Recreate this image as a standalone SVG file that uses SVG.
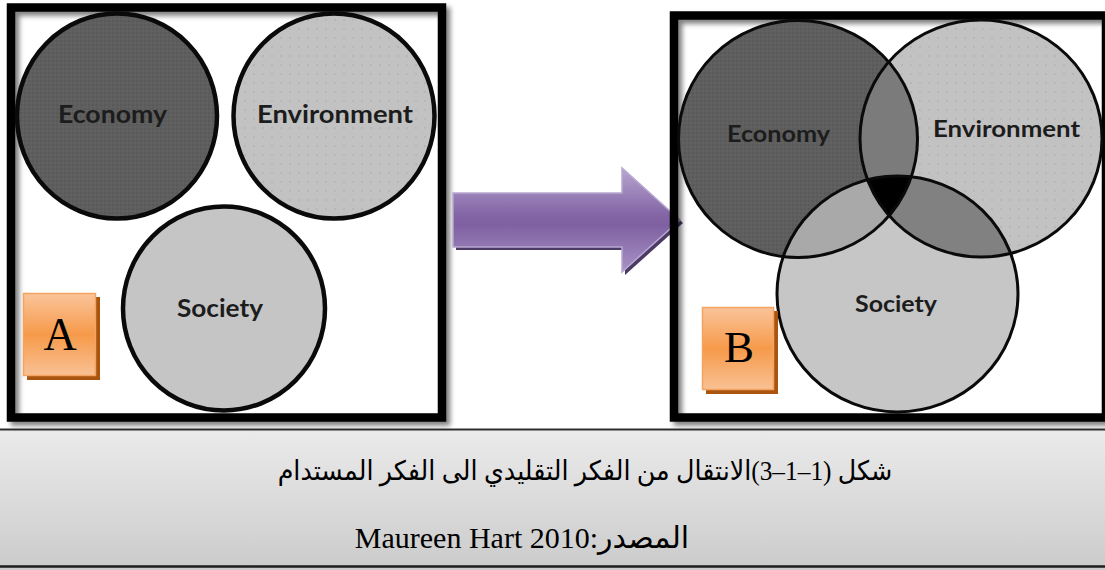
<svg xmlns="http://www.w3.org/2000/svg" width="1105" height="570" viewBox="0 0 1105 570">
  <style>
    .frame { fill: none; stroke: #000; stroke-width: 8.5; }
    .ring-a { fill: none; stroke: #0a0a0a; stroke-width: 4.5; }
    .ring-b { fill: none; stroke: #0a0a0a; stroke-width: 3; }
    .lbl { font-family: Lato, "Open Sans", sans-serif; font-weight: 700; fill: #1c1c1c; text-anchor: middle; }
    .letter { font-family: "Liberation Serif", serif; fill: #000; text-anchor: middle; }
    .cap { font-family: "Liberation Serif", "DejaVu Sans", serif; fill: #000; text-anchor: middle; }
  </style>
  <defs>
    <filter id="soft" x="-5%" y="-5%" width="115%" height="115%">
      <feGaussianBlur in="SourceAlpha" stdDeviation="2.5"/>
      <feOffset dx="4" dy="4" result="b"/>
      <feComponentTransfer><feFuncA type="linear" slope="0.5"/></feComponentTransfer>
      <feMerge><feMergeNode/><feMergeNode in="SourceGraphic"/></feMerge>
    </filter>
    <linearGradient id="orange" x1="0" y1="0" x2="0" y2="1">
      <stop offset="0" stop-color="#fac49a"/>
      <stop offset="0.5" stop-color="#f69a4a"/>
      <stop offset="1" stop-color="#f9c194"/>
    </linearGradient>
    <linearGradient id="purple" x1="0" y1="168" x2="0" y2="272" gradientUnits="userSpaceOnUse">
      <stop offset="0" stop-color="#b7a6d0"/>
      <stop offset="0.45" stop-color="#8365a6"/>
      <stop offset="0.55" stop-color="#7f61a2"/>
      <stop offset="1" stop-color="#a993c6"/>
    </linearGradient>
    <linearGradient id="band" x1="0" y1="0" x2="0" y2="1">
      <stop offset="0" stop-color="#ebebeb"/>
      <stop offset="1" stop-color="#cbcbcb"/>
    </linearGradient>
    <pattern id="dots" width="9" height="9" patternUnits="userSpaceOnUse">
      <rect width="9" height="9" fill="#c2c2c2"/>
      <circle cx="2" cy="2" r="0.8" fill="#a9a9a9"/>
    </pattern>
    <pattern id="grain" width="4" height="4" patternUnits="userSpaceOnUse">
      <rect width="4" height="4" fill="#5e5e5e"/>
      <circle cx="1" cy="1" r="0.6" fill="#4a4a4a"/>
      <circle cx="3" cy="3" r="0.6" fill="#6e6e6e"/>
    </pattern>
    <clipPath id="cEco"><ellipse cx="798" cy="139" rx="119.5" ry="118.5"/></clipPath>
    <clipPath id="cEnv"><ellipse cx="981" cy="138.5" rx="121" ry="118.5"/></clipPath>
  </defs>

  <!-- caption band -->
  <g id="caption">
    <rect x="0" y="429" width="1105" height="141" fill="url(#band)"/>
    <line x1="0" y1="429.5" x2="1105" y2="429.5" stroke="#2e2e2e" stroke-width="2"/>
    <line x1="0" y1="566.5" x2="1105" y2="566.5" stroke="#1e1e1e" stroke-width="2.5"/>
    <g transform="translate(585 480) scale(0.94 1)">
      <text class="cap" x="0" y="0" font-size="27" direction="rtl">شكل (1–1–3)الانتقال من الفكر التقليدي الى الفكر المستدام</text>
    </g>
    <text class="cap" x="522" y="548" font-size="30" direction="rtl">المصدر:Maureen Hart 2010</text>
  </g>

  <!-- panel A: separate spheres -->
  <g id="panel-a">
    <rect class="frame" x="11" y="7.5" width="431" height="410" filter="url(#soft)"/>
    <g id="a-economy">
      <ellipse cx="117" cy="116" rx="100" ry="102.5" fill="url(#grain)"/>
      <ellipse class="ring-a" cx="117" cy="116" rx="100" ry="102.5"/>
      <text class="lbl" x="112.5" y="123" font-size="24" textLength="109" lengthAdjust="spacingAndGlyphs">Economy</text>
    </g>
    <g id="a-environment">
      <ellipse cx="334" cy="116" rx="100.5" ry="102.5" fill="url(#dots)"/>
      <ellipse class="ring-a" cx="334" cy="116" rx="100.5" ry="102.5"/>
      <text class="lbl" x="335" y="123" font-size="24" textLength="156" lengthAdjust="spacingAndGlyphs">Environment</text>
    </g>
    <g id="a-society">
      <ellipse cx="224" cy="308.5" rx="101" ry="102" fill="#c5c5c5"/>
      <ellipse class="ring-a" cx="224" cy="308.5" rx="101" ry="102"/>
      <text class="lbl" x="220" y="317" font-size="24" textLength="86" lengthAdjust="spacingAndGlyphs">Society</text>
    </g>
    <g id="tag-a">
      <rect x="27" y="297" width="73" height="83" fill="#a9540f"/>
      <rect x="23.5" y="293.5" width="72" height="82" fill="url(#orange)" stroke="#f4a462" stroke-width="1.5"/>
      <text class="letter" x="60" y="350" font-size="46">A</text>
    </g>
  </g>

  <!-- transition arrow -->
  <g id="connectors">
    <polygon points="456,196 625,196 625,171 683,223 625,275 625,250 456,250" fill="#4b3a63"/>
    <polygon points="453,193 622,193 622,168 680,220 622,272 622,247 453,247" fill="url(#purple)" stroke="#b9a8d0" stroke-width="1.5"/>
  </g>

  <!-- panel B: overlapping spheres -->
  <g id="panel-b">
    <rect class="frame" x="674" y="15.5" width="432" height="402" filter="url(#soft)"/>
    <g id="b-fills">
      <ellipse cx="798" cy="139" rx="119.5" ry="118.5" fill="url(#grain)"/>
      <ellipse cx="981" cy="138.5" rx="121" ry="118.5" fill="url(#dots)"/>
      <ellipse cx="897.5" cy="294" rx="120.5" ry="118" fill="#c6c6c6"/>
      <ellipse cx="981" cy="138.5" rx="121" ry="118.5" fill="#7b7b7b" clip-path="url(#cEco)"/>
      <ellipse cx="897.5" cy="294" rx="120.5" ry="118" fill="#a9a9a9" clip-path="url(#cEco)"/>
      <ellipse cx="897.5" cy="294" rx="120.5" ry="118" fill="#818181" clip-path="url(#cEnv)"/>
      <g clip-path="url(#cEco)">
        <ellipse cx="897.5" cy="294" rx="120.5" ry="118" fill="#000" clip-path="url(#cEnv)"/>
      </g>
    </g>
    <g id="b-economy">
      <ellipse class="ring-b" cx="798" cy="139" rx="119.5" ry="118.5"/>
      <text class="lbl" x="778.5" y="141.5" font-size="23" textLength="103" lengthAdjust="spacingAndGlyphs">Economy</text>
    </g>
    <g id="b-environment">
      <ellipse class="ring-b" cx="981" cy="138.5" rx="121" ry="118.5"/>
      <text class="lbl" x="1006.5" y="136.5" font-size="22" textLength="147" lengthAdjust="spacingAndGlyphs">Environment</text>
    </g>
    <g id="b-society">
      <ellipse class="ring-b" cx="897.5" cy="294" rx="120.5" ry="118"/>
      <text class="lbl" x="896" y="311.5" font-size="23" textLength="82" lengthAdjust="spacingAndGlyphs">Society</text>
    </g>
    <g id="tag-b">
      <rect x="706" y="311" width="72" height="83" fill="#a9540f"/>
      <rect x="702.5" y="307.5" width="71" height="82" fill="url(#orange)" stroke="#f4a462" stroke-width="1.5"/>
      <text class="letter" x="739" y="362" font-size="45">B</text>
    </g>
  </g>
</svg>
